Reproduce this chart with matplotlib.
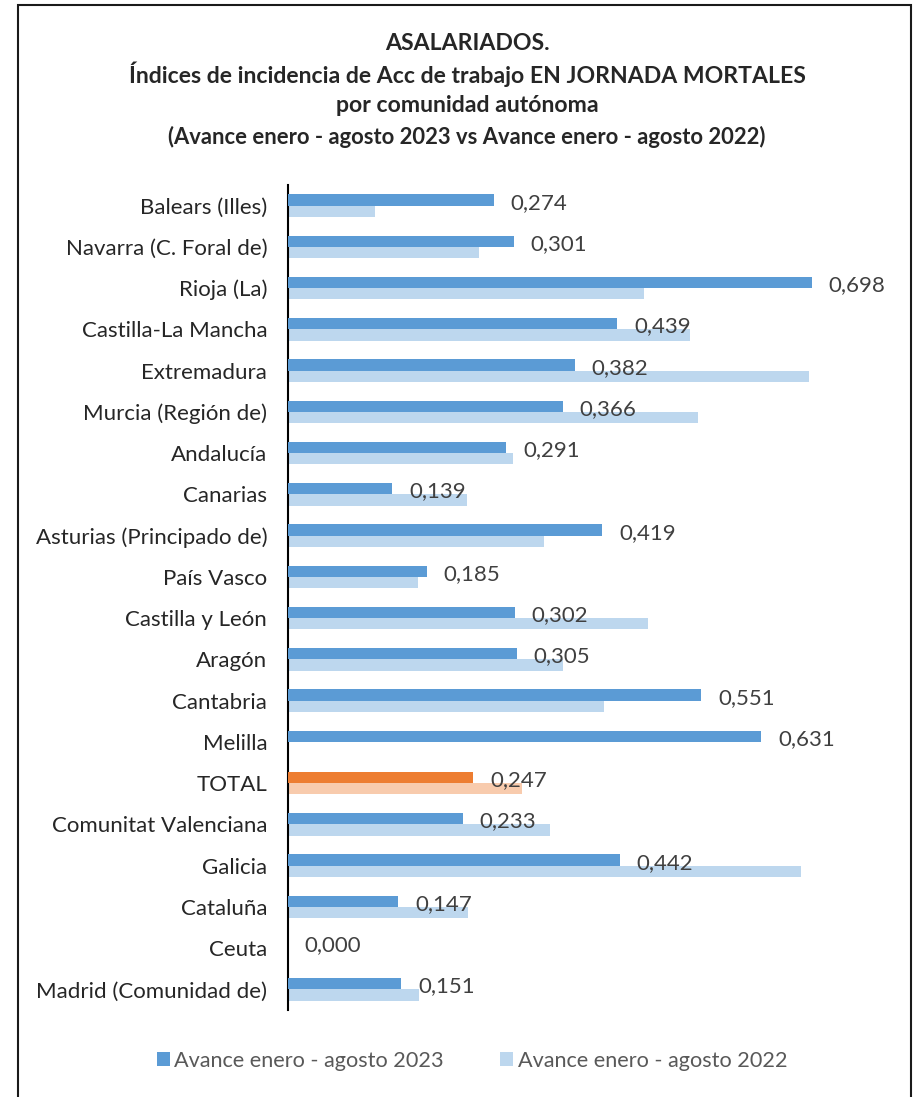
import matplotlib
matplotlib.use("Agg")
import matplotlib.pyplot as plt
from matplotlib.patches import Rectangle, Patch

plt.rcParams['font.family'] = ['Lato', 'DejaVu Sans']

categories = ["Balears (Illes)", "Navarra (C. Foral de)", "Rioja (La)", "Castilla-La Mancha",
              "Extremadura", "Murcia (Región de)", "Andalucía", "Canarias",
              "Asturias (Principado de)", "País Vasco", "Castilla y León", "Aragón",
              "Cantabria", "Melilla", "TOTAL", "Comunitat Valenciana", "Galicia",
              "Cataluña", "Ceuta", "Madrid (Comunidad de)"]
values_2023 = [0.274, 0.301, 0.698, 0.439, 0.382, 0.366, 0.291, 0.139, 0.419, 0.185,
               0.302, 0.305, 0.551, 0.631, 0.247, 0.233, 0.442, 0.147, 0.000, 0.151]
values_2022 = [0.116, 0.255, 0.474, 0.536, 0.694, 0.546, 0.300, 0.238, 0.341, 0.173,
               0.480, 0.366, 0.421, 0.000, 0.312, 0.349, 0.684, 0.240, 0.000, 0.175]
series_names = ["Avance enero - agosto 2023", "Avance enero - agosto 2022"]
title_lines = ["ASALARIADOS.",
               "Índices de incidencia de Acc de trabajo EN JORNADA MORTALES",
               "por comunidad autónoma"]
subtitle = "(Avance enero - agosto 2023 vs Avance enero - agosto 2022)"

W, H = 914, 1097
fig = plt.figure(figsize=(W / 100, H / 100), dpi=100)

# figure border
fig.patches.append(Rectangle((18 / W, -0.01), (911 - 18) / W, 1 - 5 / H + 0.01,
                             transform=fig.transFigure, fill=False,
                             edgecolor='#1a1a1a', linewidth=1.5))

ax_left, ax_right, ax_top, ax_bot = 288, 888, 185, 1010
ax = fig.add_axes([ax_left / W, 1 - ax_bot / H, (ax_right - ax_left) / W, (ax_bot - ax_top) / H])

dark = '#5B9BD5'
light = '#BDD7EE'
dark_tot = '#ED7D31'
light_tot = '#F8CBAD'

n = len(categories)
ys = list(range(n))
h = 0.275
c23 = [dark_tot if c == "TOTAL" else dark for c in categories]
c22 = [light_tot if c == "TOTAL" else light for c in categories]
ax.barh([y - h / 2 for y in ys], values_2023, height=h, color=c23, zorder=3)
ax.barh([y + h / 2 for y in ys], values_2022, height=h, color=c22, zorder=2)

for y, v in zip(ys, values_2023):
    ax.annotate(f"{v:.3f}".replace('.', ','), xy=(v, y - 0.07), xytext=(12, 0),
                textcoords='offset points', va='center', ha='left',
                fontsize=16, color='#404040', zorder=4)

ax.set_ylim(n - 0.5, -0.5)
ax.set_xlim(0, 0.8)
ax.set_yticks(ys)
ax.set_yticklabels(categories, fontsize=16, color='#262626')
ax.tick_params(axis='y', length=0, pad=15)
ax.set_xticks([])
for s in ['top', 'right', 'bottom']:
    ax.spines[s].set_visible(False)
ax.spines['left'].set_color('#000000')
ax.spines['left'].set_linewidth(1.5)

# titles
fig.text(467 / W, 1 - 43 / H, title_lines[0], ha='center', va='center', fontsize=16.6,
         fontweight='bold', color='#262626')
fig.text(467 / W, 1 - 74 / H, title_lines[1], ha='center', va='center', fontsize=16.6,
         fontweight='bold', color='#262626')
fig.text(467 / W, 1 - 105 / H, title_lines[2], ha='center', va='center', fontsize=16.6,
         fontweight='bold', color='#262626')
fig.text(467 / W, 1 - 137 / H, subtitle, ha='center', va='center', fontsize=15.8,
         fontweight='bold', color='#262626')

handles = [Patch(facecolor=dark, edgecolor='none'), Patch(facecolor=light, edgecolor='none')]
fig.legend(handles, series_names, loc='center', bbox_to_anchor=(472 / W, 1 - 1061 / H),
           ncol=2, frameon=False, fontsize=15.6, labelcolor='#595959',
           handlelength=0.6, handleheight=0.6, handletextpad=0.2, columnspacing=2.6)

fig.savefig("out.png", dpi=100)
